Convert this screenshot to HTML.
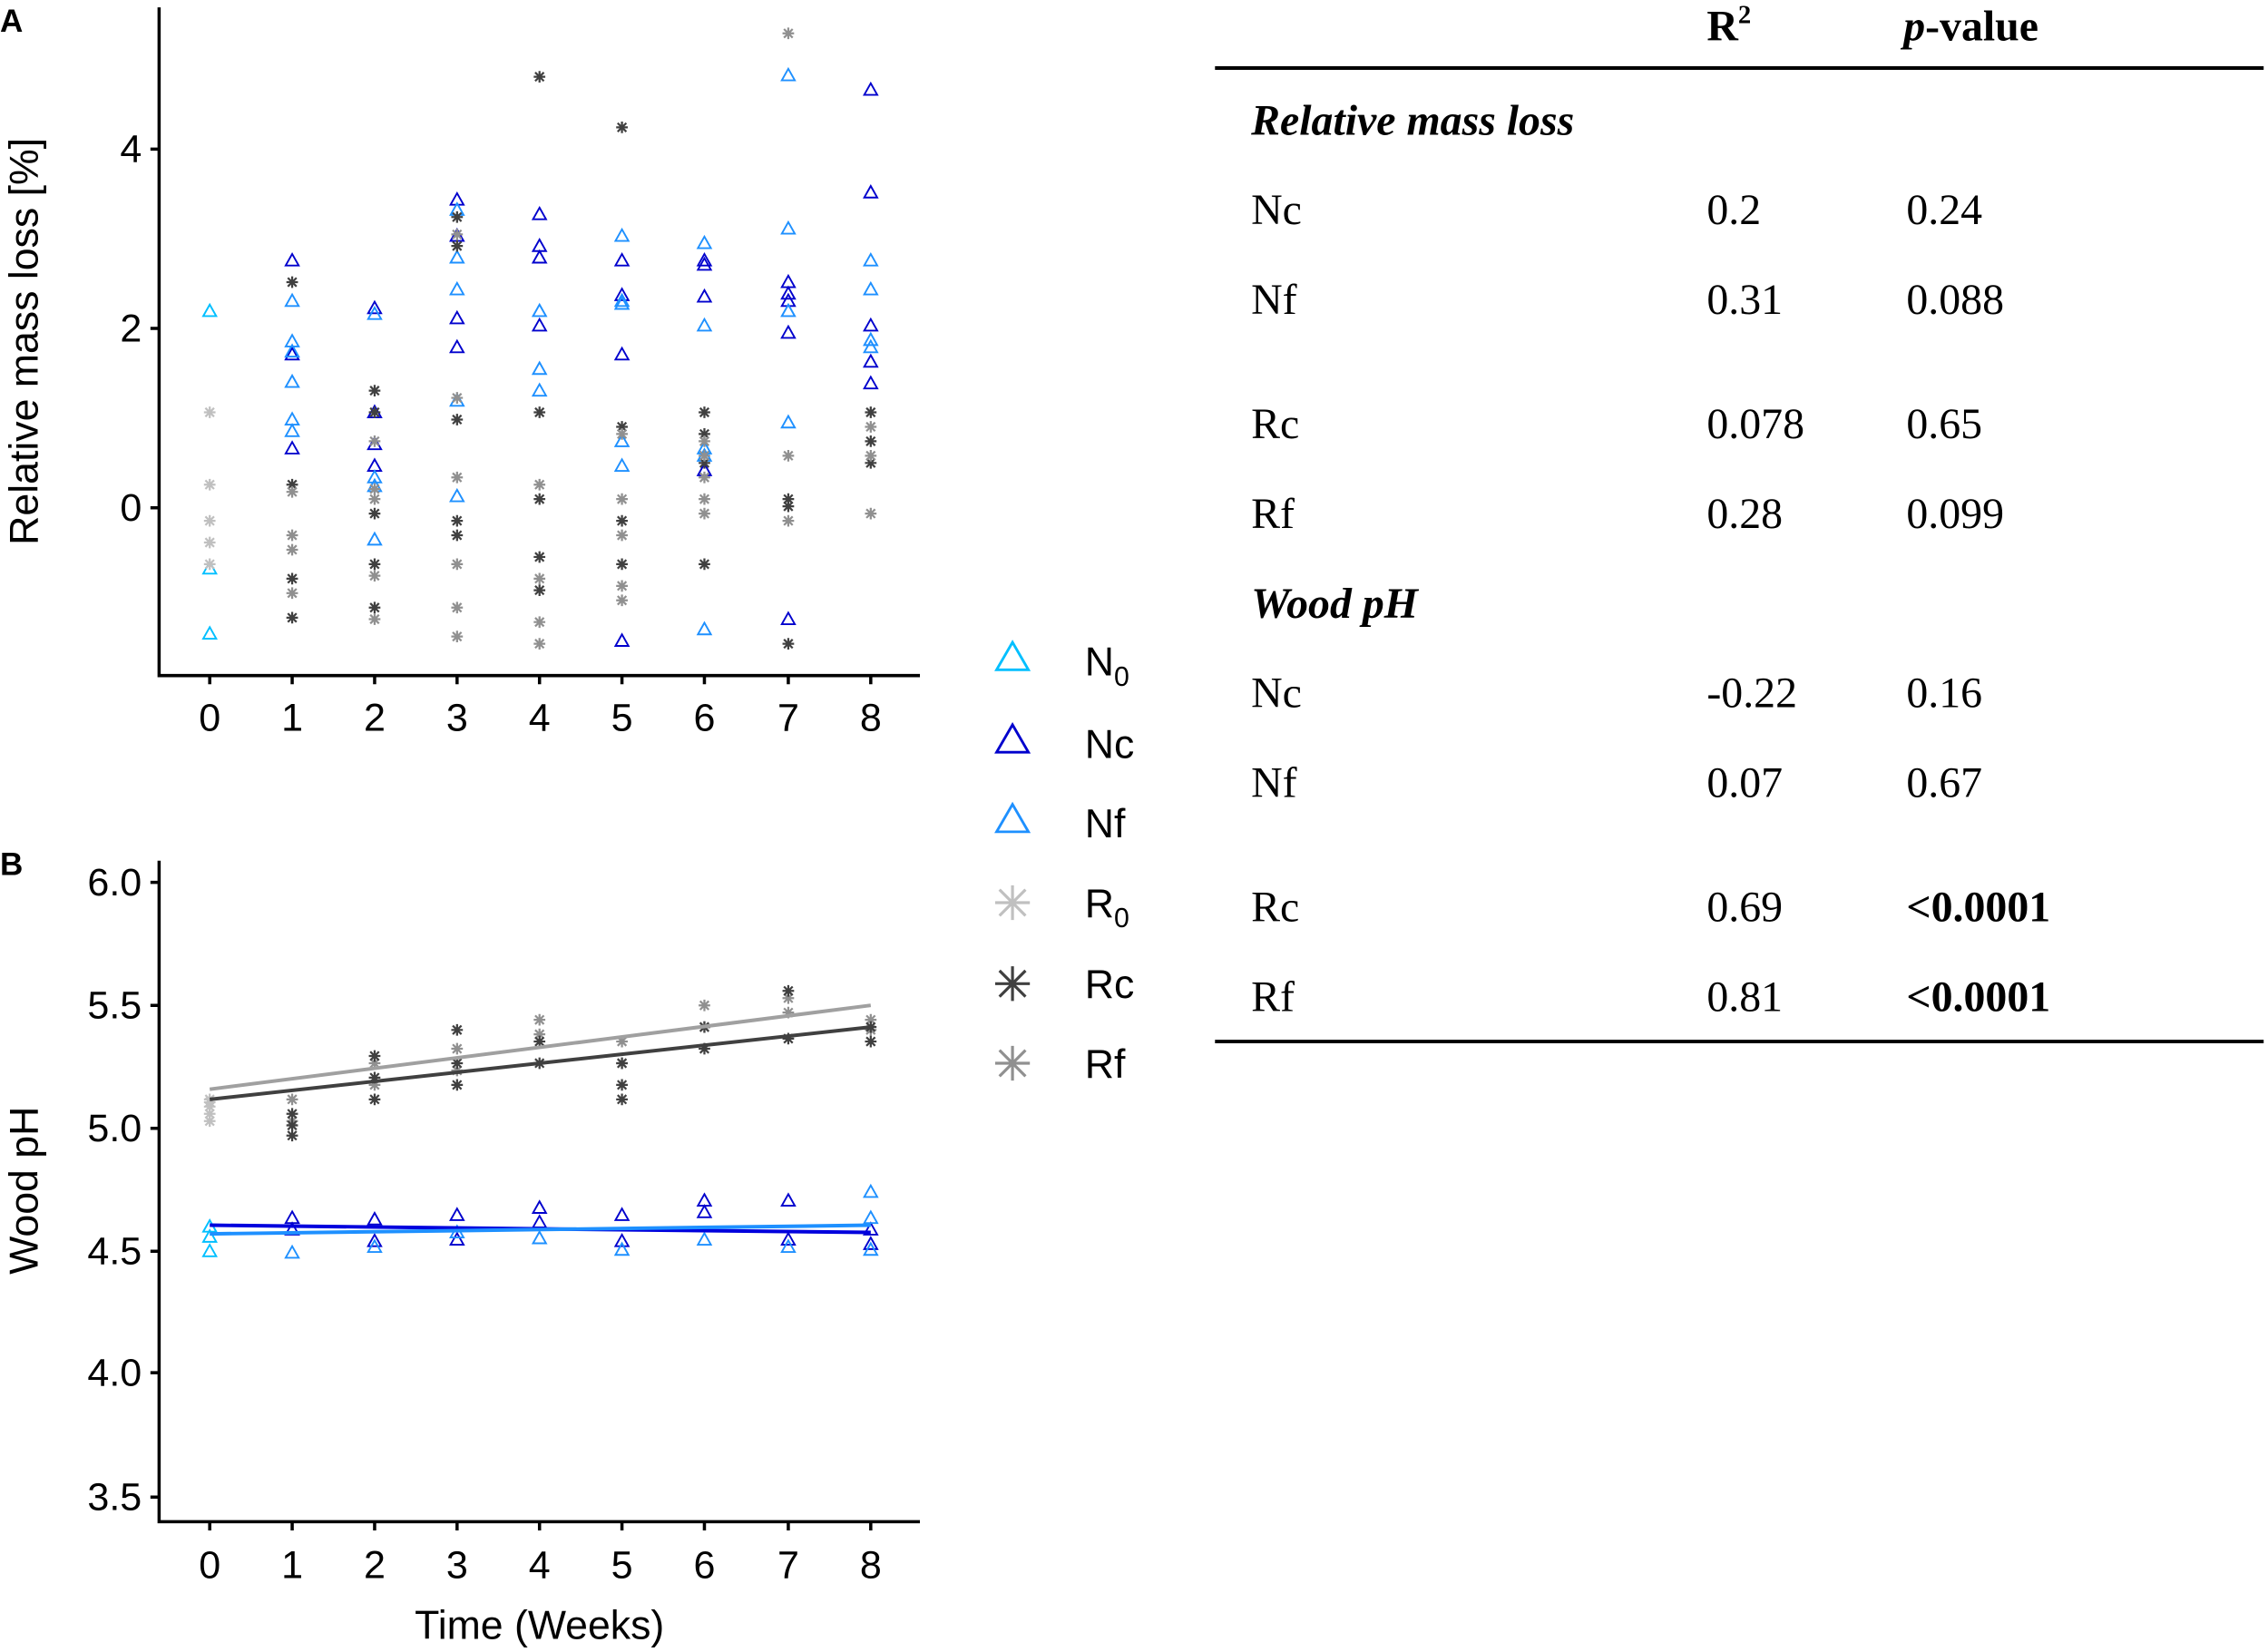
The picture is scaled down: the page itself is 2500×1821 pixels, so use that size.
<!DOCTYPE html>
<html><head><meta charset="utf-8"><style>
body{margin:0;background:#fff}
svg{display:block}
text{font-family:"Liberation Sans",sans-serif}
.t text{font-family:"Liberation Serif",serif;font-size:30px}
</style></head><body>
<svg width="2500" height="1821" viewBox="0 0 1568 1142" xmlns="http://www.w3.org/2000/svg">
<defs>
<g id="t"><path d="M0,-4.5 L4.5,3.5 L-4.5,3.5Z" fill="none" stroke="currentColor" stroke-width="1.2"/></g>
<g id="s" stroke="currentColor" stroke-width="1.4"><path d="M-4,0H4M0,-4V4M-3,-3L3,3M-3,3L3,-3"/></g>
<g id="T"><path d="M0,-11 L11,8 L-11,8Z" fill="none" stroke="currentColor" stroke-width="1.8"/></g>
<g id="S" stroke="currentColor" stroke-width="2"><path d="M-12,0H12M0,-12V12M-9,-9L9,9M-9,9L9,-9"/></g>
</defs>
<!-- Panel A -->
<text x="0" y="22" font-size="22" font-weight="bold">A</text>
<g stroke="#000" stroke-width="2.2" fill="none"><path d="M110,5V467H636"/>
<path d="M104,103H110M104,227H110M104,351H110"/>
<path d="M145,467v6M202,467v6M259,467v6M316,467v6M373,467v6M430,467v6M487,467v6M545,467v6M602,467v6"/></g>
<g font-size="27" text-anchor="end"><text x="98" y="112">4</text><text x="98" y="236">2</text><text x="98" y="360">0</text></g>
<g font-size="27" text-anchor="middle"><text x="145" y="505">0</text><text x="202" y="505">1</text><text x="259" y="505">2</text><text x="316" y="505">3</text><text x="373" y="505">4</text><text x="430" y="505">5</text><text x="487" y="505">6</text><text x="545" y="505">7</text><text x="602" y="505">8</text></g>
<text transform="translate(26,236) rotate(-90)" font-size="28" text-anchor="middle">Relative mass loss [%]</text>
<g style="color:#00bfff"><use href="#t" x="145" y="215"/><use href="#t" x="145" y="393"/><use href="#t" x="145" y="438"/></g>
<g style="color:#c0c0c0"><use href="#s" x="145" y="285"/><use href="#s" x="145" y="335"/><use href="#s" x="145" y="360"/><use href="#s" x="145" y="375"/><use href="#s" x="145" y="390"/></g>
<g style="color:#0000cd">
<use href="#t" x="202" y="180"/><use href="#t" x="202" y="245"/><use href="#t" x="202" y="310"/>
<use href="#t" x="259" y="213"/><use href="#t" x="259" y="285"/><use href="#t" x="259" y="307"/><use href="#t" x="259" y="322"/>
<use href="#t" x="316" y="138"/><use href="#t" x="316" y="163"/><use href="#t" x="316" y="220"/><use href="#t" x="316" y="240"/>
<use href="#t" x="373" y="148"/><use href="#t" x="373" y="170"/><use href="#t" x="373" y="178"/><use href="#t" x="373" y="225"/>
<use href="#t" x="430" y="180"/><use href="#t" x="430" y="204"/><use href="#t" x="430" y="245"/><use href="#t" x="430" y="443"/>
<use href="#t" x="487" y="180"/><use href="#t" x="487" y="183"/><use href="#t" x="487" y="205"/><use href="#t" x="487" y="325"/>
<use href="#t" x="545" y="195"/><use href="#t" x="545" y="203"/><use href="#t" x="545" y="208"/><use href="#t" x="545" y="230"/><use href="#t" x="545" y="428"/>
<use href="#t" x="602" y="62"/><use href="#t" x="602" y="133"/><use href="#t" x="602" y="225"/><use href="#t" x="602" y="250"/><use href="#t" x="602" y="265"/></g>
<g style="color:#1e90ff">
<use href="#t" x="202" y="208"/><use href="#t" x="202" y="236"/><use href="#t" x="202" y="243"/><use href="#t" x="202" y="264"/><use href="#t" x="202" y="290"/><use href="#t" x="202" y="298"/>
<use href="#t" x="259" y="217"/><use href="#t" x="259" y="330"/><use href="#t" x="259" y="336"/><use href="#t" x="259" y="373"/>
<use href="#t" x="316" y="145"/><use href="#t" x="316" y="178"/><use href="#t" x="316" y="200"/><use href="#t" x="316" y="277"/><use href="#t" x="316" y="343"/>
<use href="#t" x="373" y="215"/><use href="#t" x="373" y="255"/><use href="#t" x="373" y="270"/>
<use href="#t" x="430" y="163"/><use href="#t" x="430" y="208"/><use href="#t" x="430" y="210"/><use href="#t" x="430" y="305"/><use href="#t" x="430" y="322"/>
<use href="#t" x="487" y="168"/><use href="#t" x="487" y="225"/><use href="#t" x="487" y="310"/><use href="#t" x="487" y="315"/><use href="#t" x="487" y="435"/>
<use href="#t" x="545" y="52"/><use href="#t" x="545" y="158"/><use href="#t" x="545" y="215"/><use href="#t" x="545" y="292"/>
<use href="#t" x="602" y="180"/><use href="#t" x="602" y="200"/><use href="#t" x="602" y="235"/><use href="#t" x="602" y="240"/></g>
<g style="color:#404040">
<use href="#s" x="202" y="195"/><use href="#s" x="202" y="335"/><use href="#s" x="202" y="400"/><use href="#s" x="202" y="427"/>
<use href="#s" x="259" y="270"/><use href="#s" x="259" y="285"/><use href="#s" x="259" y="355"/><use href="#s" x="259" y="390"/><use href="#s" x="259" y="420"/>
<use href="#s" x="316" y="150"/><use href="#s" x="316" y="170"/><use href="#s" x="316" y="290"/><use href="#s" x="316" y="360"/><use href="#s" x="316" y="370"/>
<use href="#s" x="373" y="53"/><use href="#s" x="373" y="285"/><use href="#s" x="373" y="345"/><use href="#s" x="373" y="385"/><use href="#s" x="373" y="408"/>
<use href="#s" x="430" y="88"/><use href="#s" x="430" y="295"/><use href="#s" x="430" y="360"/><use href="#s" x="430" y="390"/>
<use href="#s" x="487" y="285"/><use href="#s" x="487" y="300"/><use href="#s" x="487" y="320"/><use href="#s" x="487" y="390"/>
<use href="#s" x="545" y="345"/><use href="#s" x="545" y="350"/><use href="#s" x="545" y="445"/>
<use href="#s" x="602" y="285"/><use href="#s" x="602" y="305"/><use href="#s" x="602" y="320"/></g>
<g style="color:#909090">
<use href="#s" x="202" y="340"/><use href="#s" x="202" y="370"/><use href="#s" x="202" y="380"/><use href="#s" x="202" y="410"/>
<use href="#s" x="259" y="305"/><use href="#s" x="259" y="338"/><use href="#s" x="259" y="345"/><use href="#s" x="259" y="398"/><use href="#s" x="259" y="428"/>
<use href="#s" x="316" y="162"/><use href="#s" x="316" y="275"/><use href="#s" x="316" y="330"/><use href="#s" x="316" y="390"/><use href="#s" x="316" y="420"/><use href="#s" x="316" y="440"/>
<use href="#s" x="373" y="335"/><use href="#s" x="373" y="400"/><use href="#s" x="373" y="430"/><use href="#s" x="373" y="445"/>
<use href="#s" x="430" y="300"/><use href="#s" x="430" y="345"/><use href="#s" x="430" y="370"/><use href="#s" x="430" y="405"/><use href="#s" x="430" y="415"/>
<use href="#s" x="487" y="305"/><use href="#s" x="487" y="315"/><use href="#s" x="487" y="330"/><use href="#s" x="487" y="345"/><use href="#s" x="487" y="355"/>
<use href="#s" x="545" y="23"/><use href="#s" x="545" y="315"/><use href="#s" x="545" y="360"/>
<use href="#s" x="602" y="295"/><use href="#s" x="602" y="315"/><use href="#s" x="602" y="355"/></g>

<!-- Panel B -->
<text x="0" y="605" font-size="22" font-weight="bold">B</text>
<g stroke="#000" stroke-width="2.2" fill="none"><path d="M110,595V1052H636"/>
<path d="M104,610H110M104,695H110M104,780H110M104,865H110M104,949H110M104,1035H110"/>
<path d="M145,1052v6M202,1052v6M259,1052v6M316,1052v6M373,1052v6M430,1052v6M487,1052v6M545,1052v6M602,1052v6"/></g>
<g font-size="27" text-anchor="end"><text x="98" y="619">6.0</text><text x="98" y="704">5.5</text><text x="98" y="789">5.0</text><text x="98" y="874">4.5</text><text x="98" y="958">4.0</text><text x="98" y="1044">3.5</text></g>
<g font-size="27" text-anchor="middle"><text x="145" y="1091">0</text><text x="202" y="1091">1</text><text x="259" y="1091">2</text><text x="316" y="1091">3</text><text x="373" y="1091">4</text><text x="430" y="1091">5</text><text x="487" y="1091">6</text><text x="545" y="1091">7</text><text x="602" y="1091">8</text></g>
<text x="373" y="1133" font-size="28" text-anchor="middle">Time (Weeks)</text>
<text transform="translate(26,823) rotate(-90)" font-size="28" text-anchor="middle">Wood pH</text>
<g style="color:#c0c0c0"><use href="#s" x="145" y="760"/><use href="#s" x="145" y="765"/><use href="#s" x="145" y="770"/><use href="#s" x="145" y="775"/><use href="#s" x="145" y="762"/></g>
<g style="color:#909090">
<use href="#s" x="202" y="760"/><use href="#s" x="202" y="775"/><use href="#s" x="259" y="735"/><use href="#s" x="259" y="750"/><use href="#s" x="316" y="725"/><use href="#s" x="316" y="740"/><use href="#s" x="373" y="705"/><use href="#s" x="373" y="715"/><use href="#s" x="430" y="720"/><use href="#s" x="430" y="735"/><use href="#s" x="487" y="695"/><use href="#s" x="487" y="710"/><use href="#s" x="545" y="690"/><use href="#s" x="545" y="700"/><use href="#s" x="602" y="705"/><use href="#s" x="602" y="712"/></g>
<g style="color:#404040">
<use href="#s" x="202" y="770"/><use href="#s" x="202" y="785"/><use href="#s" x="202" y="778"/><use href="#s" x="259" y="730"/><use href="#s" x="259" y="760"/><use href="#s" x="259" y="745"/><use href="#s" x="316" y="712"/><use href="#s" x="316" y="735"/><use href="#s" x="316" y="750"/><use href="#s" x="373" y="720"/><use href="#s" x="373" y="735"/><use href="#s" x="430" y="735"/><use href="#s" x="430" y="750"/><use href="#s" x="430" y="760"/><use href="#s" x="487" y="710"/><use href="#s" x="487" y="725"/><use href="#s" x="545" y="685"/><use href="#s" x="545" y="718"/><use href="#s" x="602" y="710"/><use href="#s" x="602" y="720"/></g>
<path d="M145,753L602,695" stroke="#a0a0a0" stroke-width="2.5"/>
<path d="M145,760L602,710" stroke="#404040" stroke-width="2.5"/>
<g style="color:#00bfff"><use href="#t" x="145" y="848"/><use href="#t" x="145" y="855"/><use href="#t" x="145" y="865"/></g>
<g style="color:#0000cd"><use href="#t" x="202" y="842"/><use href="#t" x="202" y="850"/><use href="#t" x="259" y="843"/><use href="#t" x="259" y="858"/><use href="#t" x="316" y="840"/><use href="#t" x="316" y="857"/><use href="#t" x="373" y="835"/><use href="#t" x="373" y="845"/><use href="#t" x="430" y="840"/><use href="#t" x="430" y="858"/><use href="#t" x="487" y="830"/><use href="#t" x="487" y="838"/><use href="#t" x="545" y="830"/><use href="#t" x="545" y="857"/><use href="#t" x="602" y="850"/><use href="#t" x="602" y="860"/></g>
<g style="color:#1e90ff"><use href="#t" x="202" y="866"/><use href="#t" x="259" y="862"/><use href="#t" x="316" y="852"/><use href="#t" x="373" y="856"/><use href="#t" x="430" y="864"/><use href="#t" x="487" y="857"/><use href="#t" x="545" y="862"/><use href="#t" x="602" y="824"/><use href="#t" x="602" y="842"/><use href="#t" x="602" y="864"/></g>
<path d="M145,847L602,852" stroke="#0000dd" stroke-width="2.5"/>
<path d="M145,853L602,847" stroke="#1e90ff" stroke-width="2.5"/>

<!-- Legend -->
<use href="#T" x="700" y="455" style="color:#00bfff"/>
<use href="#T" x="700" y="512" style="color:#0000cd"/>
<use href="#T" x="700" y="567" style="color:#1e90ff"/>
<use href="#S" x="700" y="624" style="color:#c0c0c0"/>
<use href="#S" x="700" y="680" style="color:#404040"/>
<use href="#S" x="700" y="735" style="color:#909090"/>
<g font-size="28"><text x="750" y="467">N<tspan font-size="19" dy="7">0</tspan></text><text x="750" y="524">Nc</text><text x="750" y="579">Nf</text>
<text x="750" y="634">R<tspan font-size="19" dy="7">0</tspan></text><text x="750" y="690">Rc</text><text x="750" y="745">Rf</text></g>

<!-- Table -->
<path d="M840,47H1565M840,720H1565" stroke="#000" stroke-width="2.5"/>
<g class="t">
<text x="1180" y="28" font-weight="bold">R<tspan font-size="18" dy="-12">2</tspan></text>
<text x="1316" y="28" font-weight="bold"><tspan font-style="italic">p</tspan>-value</text>
<text x="865" y="93" font-weight="bold" font-style="italic">Relative mass loss</text>
<text x="865" y="155">Nc</text><text x="1180" y="155">0.2</text><text x="1318" y="155">0.24</text>
<text x="865" y="217">Nf</text><text x="1180" y="217">0.31</text><text x="1318" y="217">0.088</text>
<text x="865" y="303">Rc</text><text x="1180" y="303">0.078</text><text x="1318" y="303">0.65</text>
<text x="865" y="365">Rf</text><text x="1180" y="365">0.28</text><text x="1318" y="365">0.099</text>
<text x="865" y="427" font-weight="bold" font-style="italic">Wood pH</text>
<text x="865" y="489">Nc</text><text x="1180" y="489">-0.22</text><text x="1318" y="489">0.16</text>
<text x="865" y="551">Nf</text><text x="1180" y="551">0.07</text><text x="1318" y="551">0.67</text>
<text x="865" y="637">Rc</text><text x="1180" y="637">0.69</text><text x="1318" y="637" font-weight="bold">&lt;0.0001</text>
<text x="865" y="699">Rf</text><text x="1180" y="699">0.81</text><text x="1318" y="699" font-weight="bold">&lt;0.0001</text>
</g>
</svg>
</body></html>
